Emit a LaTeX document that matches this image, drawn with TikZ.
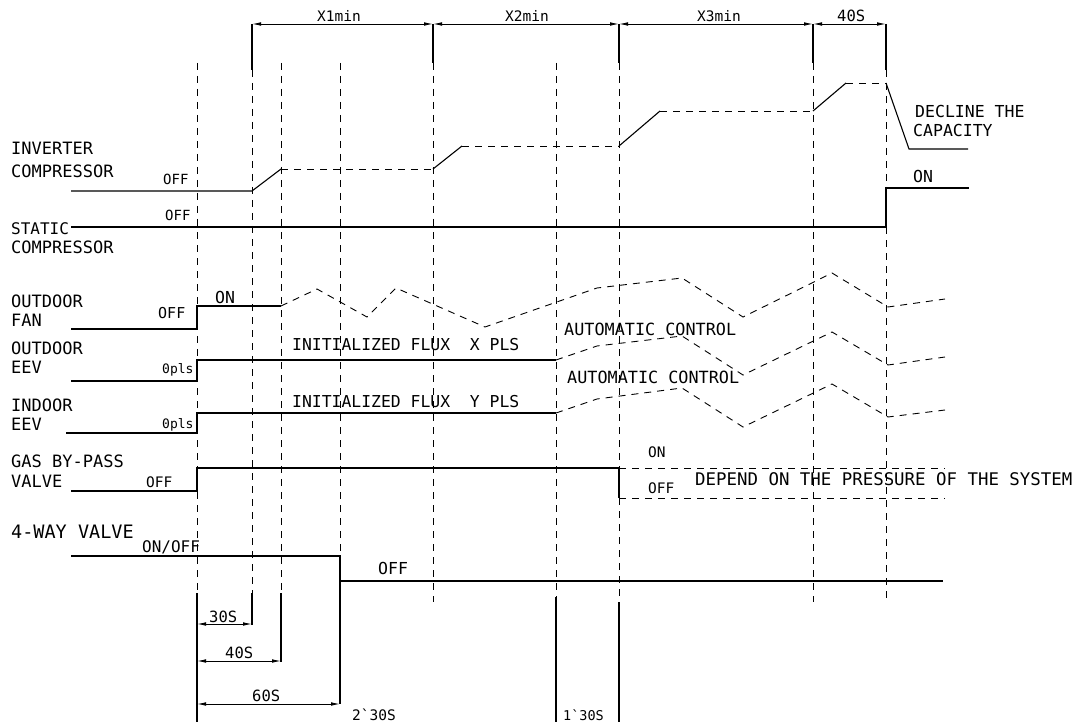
\documentclass[tikz,border=0pt]{standalone}
\usepackage{fontspec}
\setmonofont{DejaVu Sans Mono}
\usetikzlibrary{arrows.meta}
\begin{document}
\begin{tikzpicture}[x=1pt,y=-1pt,
  sig/.style={line width=1.1pt},
  dsig/.style={line width=0.9pt,dash pattern=on 7pt off 6pt},
  guide/.style={line width=0.9pt,dash pattern=on 7pt off 6pt},
  dimln/.style={line width=0.9pt,{Latex[length=9pt,width=3.6pt]}-{Latex[length=9pt,width=3.6pt]}},
  lbl/.style={inner sep=0pt,anchor=base west},
  tsz/.style={font=\ttfamily\fontsize{#1}{#1}\selectfont}]
\useasboundingbox (0,0) rectangle (1076,722);

% ---- vertical guide lines ----
\draw[guide] (197,63) -- (197,593);
\draw[sig]   (197,593) -- (197,740);
\draw[sig]   (252,24) -- (252,70);
\draw[guide] (252,70) -- (252,593);
\draw[sig]   (252,593) -- (252,625);
\draw[guide] (281,63) -- (281,593);
\draw[sig]   (281,593) -- (281,662);
\draw[guide] (340,63) -- (340,556);
\draw[sig]   (340,556) -- (340,704);
\draw[sig]   (433,24) -- (433,63);
\draw[guide] (433,63) -- (433,602);
\draw[guide] (556,63) -- (556,597);
\draw[sig]   (556,597) -- (556,740);
\draw[sig]   (619,24) -- (619,63);
\draw[guide] (619,63) -- (619,468);
\draw[guide] (619,498) -- (619,602);
\draw[sig]   (619,602) -- (619,740);
\draw[sig]   (813,24) -- (813,63);
\draw[guide] (813,63) -- (813,602);
\draw[sig]   (886,24) -- (886,70);
\draw[guide] (886,70) -- (886,188);
\draw[guide] (886,227) -- (886,602);

% ---- top dimension ----
\draw[dimln] (252,24) -- (433,24);
\draw[dimln] (433,24) -- (619,24);
\draw[dimln] (619,24) -- (813,24);
\draw[dimln] (813,24) -- (886,24);
\node[lbl,tsz=14.5] (x1) at (317,22) {X1min};
\node[lbl,tsz=14.5] (x2) at (505,22) {X2min};
\node[lbl,tsz=14.5] (x3) at (697,22) {X3min};
\node[lbl,tsz=15.5] (t40) at (837,22) {40S};

% ---- inverter compressor ----
\node[lbl,tsz=17] (inv1) at (11,155) {INVERTER};
\node[lbl,tsz=17] (inv2) at (11,178) {COMPRESSOR};
\node[lbl,tsz=14] (invoff) at (163,185) {OFF};
\draw[sig] (71,191) -- (252,191) -- (281,169);
\draw[dsig] (281,169) -- (433,169);
\draw[sig] (433,169) -- (462,146);
\draw[dsig] (462,146) -- (619,146);
\draw[sig] (619,146) -- (660,111);
\draw[dsig] (660,111) -- (813,111);
\draw[sig] (813,111) -- (846,83);
\draw[dsig] (846,83) -- (886,83);
\draw[sig] (886,83) -- (909,149) -- (968,149);
\node[lbl,tsz=16.5] (dec1) at (915,118) {DECLINE THE};
\node[lbl,tsz=16.5] (dec2) at (913,137) {CAPACITY};

% ---- static compressor ----
\node[lbl,tsz=16] (st1) at (11,235) {STATIC};
\node[lbl,tsz=17] (st2) at (11,253) {COMPRESSOR};
\node[lbl,tsz=14] (stoff) at (165,221) {OFF};
\draw[sig] (71,227) -- (886,227) -- (886,188) -- (969,188);
\node[lbl,tsz=16.5] (ston) at (913,183) {ON};

% ---- outdoor fan ----
\node[lbl,tsz=17] (of1) at (11,307) {OUTDOOR};
\node[lbl,tsz=17] (of2) at (11,326) {FAN};
\node[lbl,tsz=15] (ofoff) at (158,318) {OFF};
\node[lbl,tsz=16.5] (ofon) at (215,303) {ON};
\draw[sig] (71,329) -- (197,329) -- (197,306) -- (281,306);
\draw[dsig] (281,306) -- (317,289) -- (367,317) -- (396,288) -- (485,327) -- (597,288) -- (682,278) -- (743,317) -- (832,273) -- (888,307) -- (945,299);

% ---- outdoor EEV ----
\node[lbl,tsz=17] (oe1) at (11,354) {OUTDOOR};
\node[lbl,tsz=17] (oe2) at (11,373) {EEV};
\node[lbl,tsz=13] (oep) at (162,373) {0pls};
\node[lbl,tsz=16.4] (oeini) at (292,350) {INITIALIZED FLUX\ \ X PLS};
\node[lbl,tsz=16.8] (oeauto) at (564,335) {AUTOMATIC CONTROL};
\draw[sig] (71,381) -- (197,381) -- (197,360) -- (556,360);
\draw[dsig] (556,360) -- (597,346) -- (682,336) -- (743,375) -- (832,332) -- (888,365) -- (945,357);

% ---- indoor EEV ----
\node[lbl,tsz=17] (ie1) at (11,411) {INDOOR};
\node[lbl,tsz=17] (ie2) at (11,430) {EEV};
\node[lbl,tsz=13] (iep) at (162,428) {0pls};
\node[lbl,tsz=16.4] (ieini) at (292,407) {INITIALIZED FLUX\ \ Y PLS};
\node[lbl,tsz=16.8] (ieauto) at (567,383) {AUTOMATIC CONTROL};
\draw[sig] (66,433) -- (197,433) -- (197,413) -- (556,413);
\draw[dsig] (556,413) -- (597,399) -- (682,388) -- (743,427) -- (832,384) -- (888,417) -- (945,410);

% ---- gas by-pass valve ----
\node[lbl,tsz=17] (gv1) at (11,467) {GAS BY-PASS};
\node[lbl,tsz=17] (gv2) at (11,487) {VALVE};
\node[lbl,tsz=14.5] (gvoff) at (146,487) {OFF};
\draw[sig] (71,491) -- (197,491) -- (197,468) -- (619,468) -- (619,498);
\draw[dsig] (619,468) -- (945,468);
\draw[dsig] (619,498) -- (945,498);
\node[lbl,tsz=14.5] (gvon2) at (648,457) {ON};
\node[lbl,tsz=14.5] (gvoff2) at (648,493) {OFF};
\node[lbl,tsz=17.4] (gvdep) at (695,485) {DEPEND ON THE PRESSURE OF THE SYSTEM};

% ---- 4-way valve ----
\node[lbl,tsz=18.5] (fw1) at (11,538) {4-WAY VALVE};
\node[lbl,tsz=16] (fwonoff) at (142,552) {ON/OFF};
\draw[sig] (71,556) -- (340,556) -- (340,581) -- (943,581);
\node[lbl,tsz=16.5] (fwoff) at (378,574) {OFF};

% ---- bottom dimensions ----
\draw[dimln] (197,624) -- (252,624);
\node[lbl,tsz=15.5] (d30) at (209,622) {30S};
\draw[dimln] (197,661) -- (281,661);
\node[lbl,tsz=15.5] (d40) at (225,658) {40S};
\draw[dimln] (197,704) -- (340,704);
\node[lbl,tsz=15.5] (d60) at (252,701) {60S};
\draw[dimln] (197,725.5) -- (556,725.5);
\draw[dimln] (556,725.5) -- (619,725.5);
\node[lbl,tsz=14.5] (d230) at (352,720) {2`30S};
\node[lbl,tsz=13.5] (d130) at (563,720) {1`30S};
\end{tikzpicture}
\end{document}
